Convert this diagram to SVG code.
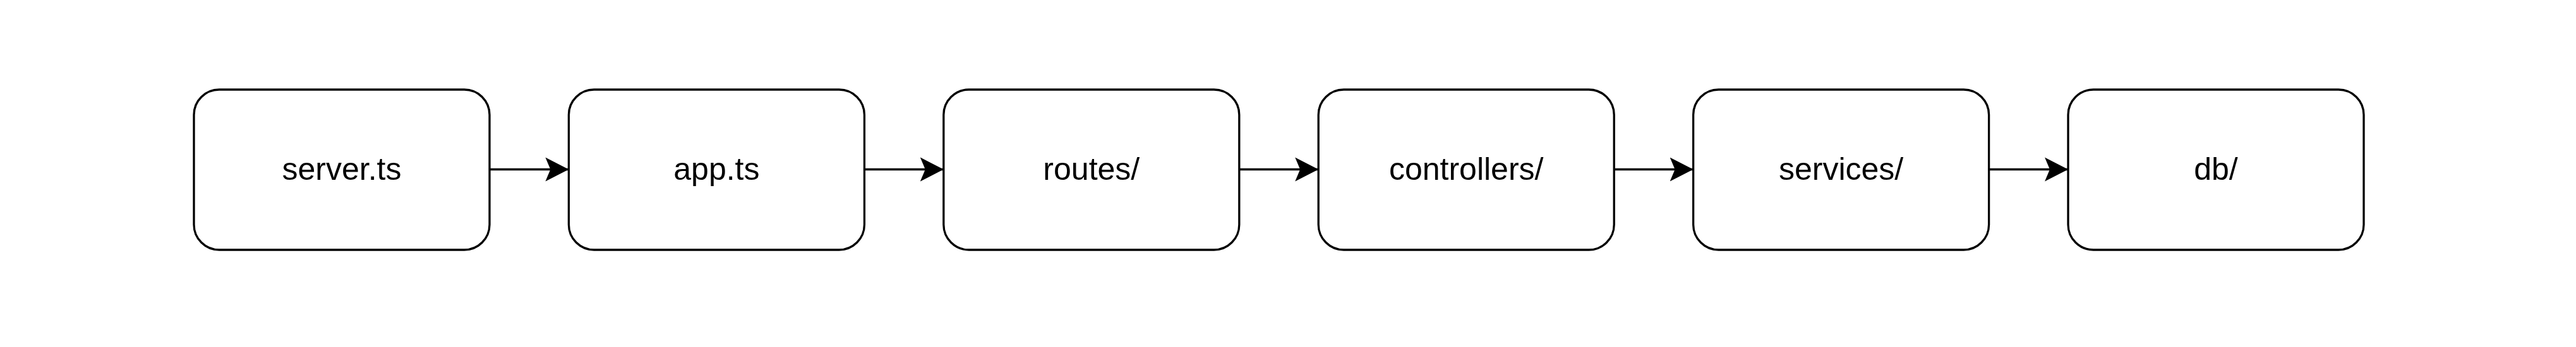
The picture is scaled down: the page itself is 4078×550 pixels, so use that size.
<svg xmlns="http://www.w3.org/2000/svg" width="4078" height="550" viewBox="0 0 4078 550">
<style>
.box{fill:#ffffff;stroke:#000000;stroke-width:3.3}
.lbl{font-family:"Liberation Sans",Arial,Helvetica,sans-serif;font-size:50px;fill:#000000;text-anchor:middle}
.edge{stroke:#000000;stroke-width:3.3;fill:none;marker-end:url(#arrow)}
</style>
<defs>
<marker id="arrow" markerUnits="userSpaceOnUse" markerWidth="40" markerHeight="42" refX="37" refY="21" orient="auto" viewBox="0 0 40 42">
<path d="M0,2 L37,21 L0,40 L8,21 Z" fill="#000000"/>
</marker>
</defs>
<rect width="4078" height="550" fill="#ffffff"/>
<g id="connectors">
<line class="edge" x1="775" y1="268.5" x2="900.4" y2="268.5"/>
<line class="edge" x1="1368.4" y1="268.5" x2="1493.8" y2="268.5"/>
<line class="edge" x1="1961.8" y1="268.5" x2="2087.2" y2="268.5"/>
<line class="edge" x1="2555.2" y1="268.5" x2="2680.6" y2="268.5"/>
<line class="edge" x1="3148.6" y1="268.5" x2="3274" y2="268.5"/>
</g>
<g id="server">
<rect class="box" x="307" y="142" width="468" height="254" rx="40" ry="40"/>
<text class="lbl" x="541" y="285">server.ts</text>
</g>
<g id="app">
<rect class="box" x="900.4" y="142" width="468" height="254" rx="40" ry="40"/>
<text class="lbl" x="1134.4" y="285">app.ts</text>
</g>
<g id="routes">
<rect class="box" x="1493.8" y="142" width="468" height="254" rx="40" ry="40"/>
<text class="lbl" x="1727.8" y="285">routes/</text>
</g>
<g id="controllers">
<rect class="box" x="2087.2" y="142" width="468" height="254" rx="40" ry="40"/>
<text class="lbl" x="2321.2" y="285">controllers/</text>
</g>
<g id="services">
<rect class="box" x="2680.6" y="142" width="468" height="254" rx="40" ry="40"/>
<text class="lbl" x="2914.6" y="285">services/</text>
</g>
<g id="db">
<rect class="box" x="3274" y="142" width="468" height="254" rx="40" ry="40"/>
<text class="lbl" x="3508" y="285">db/</text>
</g>
</svg>
